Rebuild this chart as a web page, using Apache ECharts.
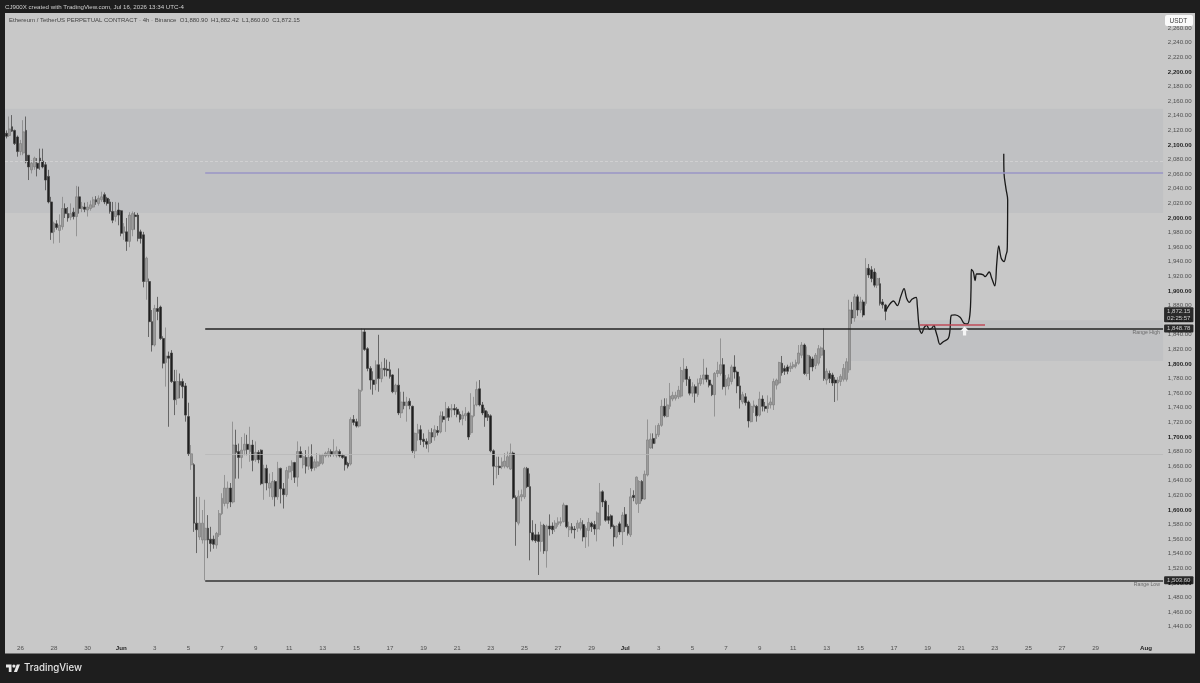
<!DOCTYPE html>
<html>
<head>
<meta charset="utf-8">
<title>ETHUSDT.P 4h</title>
<style>html,body{margin:0;padding:0;background:#1e1e1e}#chart{width:1200px;height:683px}</style>
<script src="https://cdn.jsdelivr.net/npm/echarts@6/dist/echarts.min.js"></script>
</head>
<body>
<div id="chart"></div>
<script>
// 4h candles as [open, close, low, high], first bar 25 May 04:00
const candles = [
[2116,2112,2109,2120],[2113,2122,2111,2139],[2125,2119,2118,2141],[2120,2102,2100,2121],[2111,2091,2084,2113],
[2091,2102,2086,2107],[2089,2118,2086,2134],[2120,2077,2075,2139],[2086,2070,2052,2086],[2066,2075,2061,2079],
[2070,2082,2066,2084],[2075,2068,2057,2082],[2082,2078,2066,2095],[2078,2070,2068,2095],[2073,2052,2038,2077],
[2057,2022,2020,2066],[2022,1980,1970,2029],[1981,1993,1965,1995],[1992,1987,1984,1997],[1983,1990,1966,2005],
[1988,2013,1984,2029],[2013,2006,2000,2020],[2006,2000,1995,2015],[2001,2006,1997,2020],[2008,2002,1998,2014],
[2002,2029,1975,2044],[2029,2013,2006,2043],[2013,2016,2008,2022],[2015,2012,2008,2021],[2011,2015,2002,2022],
[2013,2018,2010,2024],[2015,2025,2014,2029],[2025,2022,2018,2030],[2020,2027,2017,2031],[2025,2029,2022,2036],
[2032,2022,2019,2035],[2027,2020,2017,2029],[2022,2009,2006,2026],[2009,1997,1993,2022],[2002,2009,1995,2022],
[2011,2004,1990,2021],[2010,1979,1975,2011],[1980,1988,1970,1993],[1981,1968,1955,2000],[1968,2004,1960,2008],
[1984,2006,1975,2009],[2004,2002,1984,2008],[2004,1972,1968,2007],[1981,1972,1965,1984],[1977,1913,1905,1981],
[1913,1945,1888,1947],[1913,1858,1837,1917],[1858,1826,1817,1874],[1826,1876,1824,1881],[1876,1872,1860,1892],
[1878,1835,1833,1880],[1835,1801,1794,1838],[1802,1811,1769,1850],[1811,1808,1714,1817],[1815,1776,1774,1819],
[1776,1751,1730,1792],[1753,1776,1744,1792],[1776,1771,1753,1787],[1776,1769,1753,1780],[1770,1730,1721,1774],
[1728,1677,1674,1747],[1662,1677,1655,1689],[1662,1582,1570,1664],[1582,1573,1541,1618],[1563,1582,1559,1618],
[1559,1582,1554,1600],[1559,1575,1503.6,1614],[1575,1559,1534,1593],[1560,1554,1543,1577],[1560,1553,1547,1565],
[1552,1568,1547,1570],[1566,1595,1563,1600],[1595,1616,1593,1623],[1609,1630,1605,1648],[1609,1630,1602,1639],
[1630,1611,1604,1637],[1611,1689,1609,1721],[1689,1679,1643,1710],[1680,1672,1643,1691],[1672,1682,1657,1700],
[1682,1690,1675,1705],[1690,1683,1675,1703],[1680,1689,1666,1714],[1689,1668,1653,1696],[1669,1679,1666,1694],
[1679,1669,1664,1682],[1682,1636,1634,1683],[1637,1657,1614,1662],[1657,1637,1627,1662],[1630,1637,1618,1650],
[1618,1639,1614,1652],[1639,1618,1605,1641],[1618,1657,1614,1666],[1657,1629,1609,1658],[1629,1621,1602,1637],
[1621,1654,1618,1659],[1652,1660,1643,1660],[1654,1665,1641,1668],[1665,1645,1637,1666],[1645,1680,1632,1694],
[1680,1672,1671,1687],[1662,1673,1657,1678],[1672,1660,1650,1682],[1660,1672,1655,1687],[1673,1657,1653,1690],
[1658,1666,1654,1670],[1660,1666,1657,1678],[1663,1675,1660,1677],[1664,1675,1662,1677],[1674,1678,1672,1680],
[1675,1680,1672,1685],[1680,1676,1673,1683],[1676,1680,1673,1697],[1675,1681,1672,1687],[1680,1674,1672,1683],
[1675,1672,1670,1677],[1673,1662,1654,1675],[1664,1660,1657,1666],[1663,1724,1661,1727],[1724,1720,1716,1730],
[1721,1715,1713,1725],[1715,1764,1713,1766],[1764,1844,1762,1848.78],[1844,1820,1818,1848],[1821,1794,1790,1823],
[1794,1778,1765,1797],[1778,1772,1758,1790],[1773,1799,1764,1805],[1799,1780,1762,1840],[1780,1794,1775,1803],
[1794,1792,1783,1808],[1793,1791,1783,1806],[1792,1783,1780,1803],[1785,1762,1760,1786],[1762,1771,1758,1773],
[1771,1733,1730,1794],[1733,1748,1726,1762],[1748,1743,1738,1762],[1743,1748,1721,1755],[1749,1743,1738,1753],
[1742,1681,1678,1743],[1681,1705,1671,1706],[1705,1710,1695,1718],[1710,1696,1689,1716],[1697,1694,1686,1705],
[1694,1690,1684,1698],[1691,1706,1679,1710],[1706,1700,1692,1712],[1700,1710,1695,1716],[1709,1706,1702,1715],
[1707,1729,1705,1735],[1728,1724,1720,1735],[1726,1739,1707,1748],[1739,1727,1722,1742],[1737,1739,1727,1745],
[1739,1737,1730,1745],[1738,1731,1727,1741],[1731,1724,1720,1735],[1725,1730,1716,1736],[1729,1732,1722,1741],
[1733,1700,1696,1735],[1706,1729,1703,1760],[1729,1744,1727,1755],[1744,1765,1742,1776],[1766,1744,1742,1778],
[1744,1733,1730,1748],[1736,1727,1714,1740],[1731,1727,1722,1735],[1729,1681,1679,1731],[1681,1660,1634,1683],
[1659,1660,1643,1673],[1660,1658,1648,1673],[1659,1666,1656,1672],[1660,1667,1657,1678],[1659,1673,1657,1680],
[1656,1678,1655,1691],[1678,1617,1615,1680],[1617,1584,1551,1620],[1582,1619,1579,1627],[1618,1621,1612,1628],
[1618,1657,1615,1659],[1657,1632,1630,1659],[1632,1569,1531,1650],[1569,1559,1557,1586],[1566,1558,1555,1581],
[1566,1557,1511,1570],[1557,1579,1543,1584],[1579,1544,1540,1581],[1544,1578,1521,1580],[1578,1574,1565,1594],
[1578,1573,1567,1583],[1575,1582,1570,1586],[1580,1584,1577,1590],[1582,1584,1578,1590],[1584,1607,1583,1610],
[1606,1577,1575,1607],[1573,1577,1563,1584],[1577,1573,1568,1582],[1574,1573,1561,1578],[1575,1582,1570,1586],
[1575,1583,1572,1589],[1580,1563,1557,1586],[1563,1575,1548,1578],[1572,1583,1550,1589],[1582,1577,1570,1584],
[1580,1574,1566,1585],[1574,1596,1557,1598],[1579,1625,1573,1637],[1625,1611,1604,1627],[1612,1586,1584,1614],
[1591,1586,1581,1607],[1592,1577,1574,1594],[1578,1563,1550,1580],[1563,1578,1561,1579],[1581,1570,1566,1584],
[1570,1593,1552,1597],[1594,1577,1570,1604],[1578,1568,1565,1581],[1566,1618,1563,1630],[1620,1617,1612,1627],
[1609,1645,1607,1646],[1609,1639,1596,1641],[1639,1615,1612,1641],[1615,1649,1614,1654],[1648,1696,1646,1724],
[1685,1697,1684,1705],[1698,1691,1684,1705],[1698,1704,1691,1716],[1703,1716,1700,1719],[1716,1742,1714,1751],
[1742,1729,1727,1753],[1728,1744,1727,1753],[1742,1756,1738,1774],[1752,1757,1749,1762],[1753,1757,1750,1762],
[1755,1764,1752,1770],[1756,1791,1754,1796],[1779,1793,1775,1808],[1793,1779,1770,1797],[1779,1760,1757,1783],
[1760,1769,1755,1775],[1769,1760,1747,1772],[1758,1774,1755,1780],[1773,1780,1770,1785],[1779,1785,1772,1807],
[1785,1779,1775,1795],[1778,1771,1768,1785],[1771,1758,1756,1773],[1758,1787,1728,1789],[1787,1791,1782,1803],
[1787,1799,1784,1835],[1799,1769,1765,1808],[1769,1779,1757,1785],[1770,1781,1765,1786],[1776,1796,1772,1799],
[1796,1789,1780,1812],[1789,1770,1760,1791],[1770,1751,1739,1783],[1748,1758,1745,1762],[1755,1747,1743,1760],
[1748,1722,1713,1750],[1721,1742,1720,1746],[1741,1744,1733,1750],[1742,1729,1721,1744],[1730,1752,1728,1762],
[1752,1742,1735,1757],[1742,1739,1735,1748],[1739,1746,1733,1757],[1744,1748,1739,1754],[1744,1776,1737,1780],
[1771,1778,1765,1780],[1774,1802,1772,1803],[1801,1788,1784,1811],[1794,1790,1785,1798],[1796,1790,1786,1799],
[1794,1797,1789,1802],[1796,1799,1793,1803],[1797,1802,1794,1806],[1801,1815,1799,1826],[1812,1826,1808,1830],
[1826,1787,1785,1828],[1787,1812,1783,1824],[1810,1796,1778,1812],[1807,1796,1790,1810],[1798,1812,1793,1815],
[1801,1821,1798,1826],[1812,1822,1808,1824],[1819,1780,1777,1848.78],[1778,1790,1772,1794],[1787,1780,1774,1791],
[1785,1774,1770,1788],[1778,1774,1748,1782],[1774,1778,1750,1782],[1776,1783,1770,1786],[1779,1794,1776,1800],
[1779,1803,1776,1808],[1792,1874,1788,1888],[1874,1863,1855,1885],[1863,1892,1858,1896],[1892,1874,1866,1895],
[1874,1885,1870,1892],[1885,1867,1864,1888],[1883,1931,1880,1945],[1931,1922,1918,1937],[1929,1917,1912,1934],
[1926,1908,1905,1931],[1908,1917,1904,1925],[1910,1883,1880,1918],[1885,1881,1876,1889],[1880.9,1872.15,1860,1882.42]
];

// Hand-drawn projection, as [bar position, price]
const projection = [
[314,1872.15],[315.3,1880.9],[316.8,1886.3],[318.2,1880],[319.4,1892.3],[320.6,1903.2],[321.5,1890],[322.5,1884.5],
[323.4,1888.6],[324.9,1891.4],[325.3,1880.9],[326.05,1848.9],[326.9,1842],[327.8,1850.3],[328.7,1853],[329.6,1847.5],
[330.5,1848.9],[331.3,1853],[331.8,1846.6],[332.5,1837.5],[333.4,1827],[334.6,1830.6],[336.4,1835.2],[337,1846.6],
[337.5,1866.7],[338.8,1867.2],[340.6,1864],[342,1855.7],[343.2,1854.8],[344.1,1867.2],[344.5,1901.4],[344.6,1929.7],
[345.3,1926.5],[346,1914.2],[346.5,1923.3],[347.7,1923.3],[348.9,1922],[349.5,1919.7],[351,1926],[351.9,1917.4],
[353,1906.9],[353.7,1937.9],[354.4,1961.7],[355.3,1944.8],[356.3,1940.2],[357,1949.4],[357.4,1955],[357.5,1970],
[357.6,2024.7],[357,2040],[356.3,2061],[356.2,2088]
];

const rangeHigh = 1848.78;
const rangeLow = 1503.6;
const lastClose = 1872.15;
const supplyZone = [2007, 2149.5];
const demandZone = [1804, 1860];
const targetLevel = 2062;
const dashedLevel = 2078;
const midLevel = 1676.7;
const retestLevel = 1853.6;
const rangeStartBar = 71;
const retestBars = [326.3, 349.5];
const demandStartBar = 301.4;
const arrowAt = [342.2, 1845.2];
const axisEndBar = 413.5;
const endBar = 413.1;

const tickDays = ['05-26','05-28','05-30','06-01','06-03','06-05','06-07','06-09','06-11','06-13','06-15','06-17','06-19','06-21','06-23','06-25','06-27','06-29',
  '07-01','07-03','07-05','07-07','07-09','07-11','07-13','07-15','07-17','07-19','07-21','07-23','07-25','07-27','07-29','08-01'];
const tickLabels = ['26','28','30','Jun','3','5','7','9','11','13','15','17','19','21','23','25','27','29',
  'Jul','3','5','7','9','11','13','15','17','19','21','23','25','27','29','Aug'];

const pad = n => String(n).padStart(2, '0');
const categories = [];
for (let i = 0; i < 414; i++) {
  const d = new Date(Date.UTC(2026, 4, 25, 4) + i * 4 * 3600 * 1000);
  categories.push(pad(d.getUTCMonth() + 1) + '-' + pad(d.getUTCDate()) + ' ' + pad(d.getUTCHours()));
}
const tickMap = {};
tickDays.forEach((d, i) => { tickMap[d + ' 00'] = tickLabels[i]; });

const FONT = '"Liberation Sans", Arial, sans-serif';
const money = v => v.toLocaleString('en-US', { minimumFractionDigits: 2, maximumFractionDigits: 2 });
const hline = (p, from, color, width, type) => [
  { coord: [from, p], lineStyle: { color, width, type: type || 'solid' } },
  { coord: [endBar, p] }
];
const tag = (p, text, offset) => ({
  value: [endBar, p],
  label: { show: true, formatter: text, position: 'right', distance: 1, offset: offset || [0, 0],
    backgroundColor: '#030303', color: '#f0f0f0', fontFamily: FONT, fontSize: 6, lineHeight: 7,
    padding: [0.5, 3, 0.5, 3], borderRadius: 1 }
});
const note = (p, text) => ({
  value: [412, p],
  label: { show: true, formatter: text, position: 'left', distance: 0, color: '#555', fontFamily: FONT, fontSize: 5.2 }
});

const chart = echarts.init(document.getElementById('chart'), null, { renderer: 'canvas' });
chart.setOption({
  animation: false,
  backgroundColor: '#1e1e1e',
  grid: { left: 5, right: 35.8, top: 13.6, bottom: 27 },
  xAxis: [{
    type: 'category', data: categories, boundaryGap: true,
    axisLine: { show: false }, axisTick: { show: false }, splitLine: { show: false },
    axisLabel: {
      inside: true, margin: 5, hideOverlap: false,
      interval: (idx, val) => val in tickMap,
      formatter: val => {
        const t = tickMap[val] || '';
        return /[A-Z]/.test(t) ? '{m|' + t + '}' : t;
      },
      color: '#505050', fontFamily: FONT, fontSize: 6.2,
      rich: { m: { color: '#1f1f1f', fontWeight: 'bold', fontFamily: FONT, fontSize: 6.2 } }
    }
  }, {
    type: 'value', min: -0.5, max: axisEndBar, show: false, position: 'top', splitLine: { show: false }
  }],
  yAxis: {
    type: 'value', position: 'right', min: 1400, max: 2280, interval: 20,
    axisLine: { show: false }, axisTick: { show: false }, splitLine: { show: false },
    axisLabel: {
      margin: 3.6, align: 'left', color: '#505050', fontFamily: FONT, fontSize: 6.1,
      formatter: v => {
        if (v < 1440 || v > 2260) return '';
        return v % 100 === 0 ? '{b|' + money(v) + '}' : money(v);
      },
      rich: { b: { color: '#1f1f1f', fontWeight: 'bold', fontFamily: FONT, fontSize: 6.1 } }
    }
  },
  graphic: [
    { type: 'rect', z: -10, shape: { x: 5, y: 13, width: 1190, height: 640.5 }, style: { fill: '#c8c8c8' } },
    { type: 'text', z: 10, x: 5, y: 4.5, style: { text: 'CJ900X created with TradingView.com, Jul 16, 2026 13:34 UTC-4', fill: '#cfcfcf', font: '6.15px ' + FONT } },
    { type: 'text', z: 10, x: 9, y: 17.5, style: { text: 'Ethereum / TetherUS PERPETUAL CONTRACT · 4h · Binance  O1,880.90  H1,882.42  L1,860.00  C1,872.15', fill: '#444', font: '6px ' + FONT } },
    { type: 'rect', z: 10, shape: { x: 1165, y: 15, width: 28, height: 11, r: 2 }, style: { fill: '#fafafa' } },
    { type: 'text', z: 11, x: 1169.5, y: 17.5, style: { text: 'USDT', fill: '#444', font: '6.5px ' + FONT } },
    { type: 'polygon', z: 10, shape: { points: [[6,664.5],[11.5,664.5],[11.5,671.9],[8.8,671.9],[8.8,667.4],[6,667.4]] }, style: { fill: '#e8e8e8' } },
    { type: 'polygon', z: 10, shape: { points: [[13.9,671.9],[16.8,664.5],[20,664.5],[17,671.9]] }, style: { fill: '#e8e8e8' } },
    { type: 'circle', z: 10, shape: { cx: 13.9, cy: 666.1, r: 1.6 }, style: { fill: '#e8e8e8' } },
    { type: 'text', z: 10, x: 24, y: 663, style: { text: 'TradingView', fill: '#e4e4e4', font: '500 9.7px Inter, ' + FONT } }
  ],
  series: [
    {
      name: 'zones', type: 'line', xAxisIndex: 1, data: [], z: 1, silent: true,
      markArea: {
        silent: true,
        itemStyle: { color: '#c0c1c3' },
        data: [
          [{ coord: [-0.5, supplyZone[1]] }, { coord: [endBar, supplyZone[0]] }],
          [{ coord: [demandStartBar, demandZone[1]] }, { coord: [endBar, demandZone[0]] }]
        ]
      }
    },
    {
      name: 'ETHUSDT.P', type: 'candlestick', data: candles, xAxisIndex: 0, z: 2, barWidth: 2.2,
      itemStyle: { color: '#9c9c9c', color0: '#1f1f1f', borderColor: '#7e7e7e', borderColor0: '#3c3c3c', borderWidth: 0.7 }
    },
    {
      name: 'levels', type: 'line', xAxisIndex: 1, data: [], z: 3, silent: true,
      markLine: {
        silent: true, symbol: 'none', label: { show: false }, animation: false,
        data: [
          hline(rangeHigh, rangeStartBar, '#232323', 1.5),
          hline(rangeLow, rangeStartBar, '#333333', 1.5),
          hline(targetLevel, rangeStartBar, '#9a94c6', 1.5),
          hline(dashedLevel, -0.5, '#d4d4d4', 0.8, [3, 2]),
          hline(midLevel, rangeStartBar, '#b8b8b8', 0.8),
          [{ coord: [retestBars[0], retestLevel], lineStyle: { color: '#bf4a58', width: 1.5, type: 'solid' } }, { coord: [retestBars[1], retestLevel] }]
        ]
      }
    },
    {
      name: 'projection', type: 'line', xAxisIndex: 1, data: projection, z: 4, smooth: 0.35,
      showSymbol: false, symbol: 'none', lineStyle: { color: '#191919', width: 1.3 }, clip: false
    },
    {
      name: 'arrow', type: 'scatter', xAxisIndex: 1, z: 5, data: [arrowAt], silent: true,
      symbol: 'path://M5 0L10 5.5L7 5.5L7 12L3 12L3 5.5L0 5.5Z', symbolSize: [8, 9],
      itemStyle: { color: '#f5f5f5', opacity: 1 }
    },
    {
      name: 'tags', type: 'scatter', xAxisIndex: 1, z: 6, symbolSize: 0, silent: true, clip: false,
      data: [
        tag(rangeHigh, money(rangeHigh)),
        tag(rangeLow, money(rangeLow)),
        tag(lastClose, money(lastClose) + '\n02:25:57', [0, 3.5]),
        note(1843, 'Range High'),
        note(1498, 'Range Low')
      ]
    }
  ]
});
</script>
</body>
</html>
